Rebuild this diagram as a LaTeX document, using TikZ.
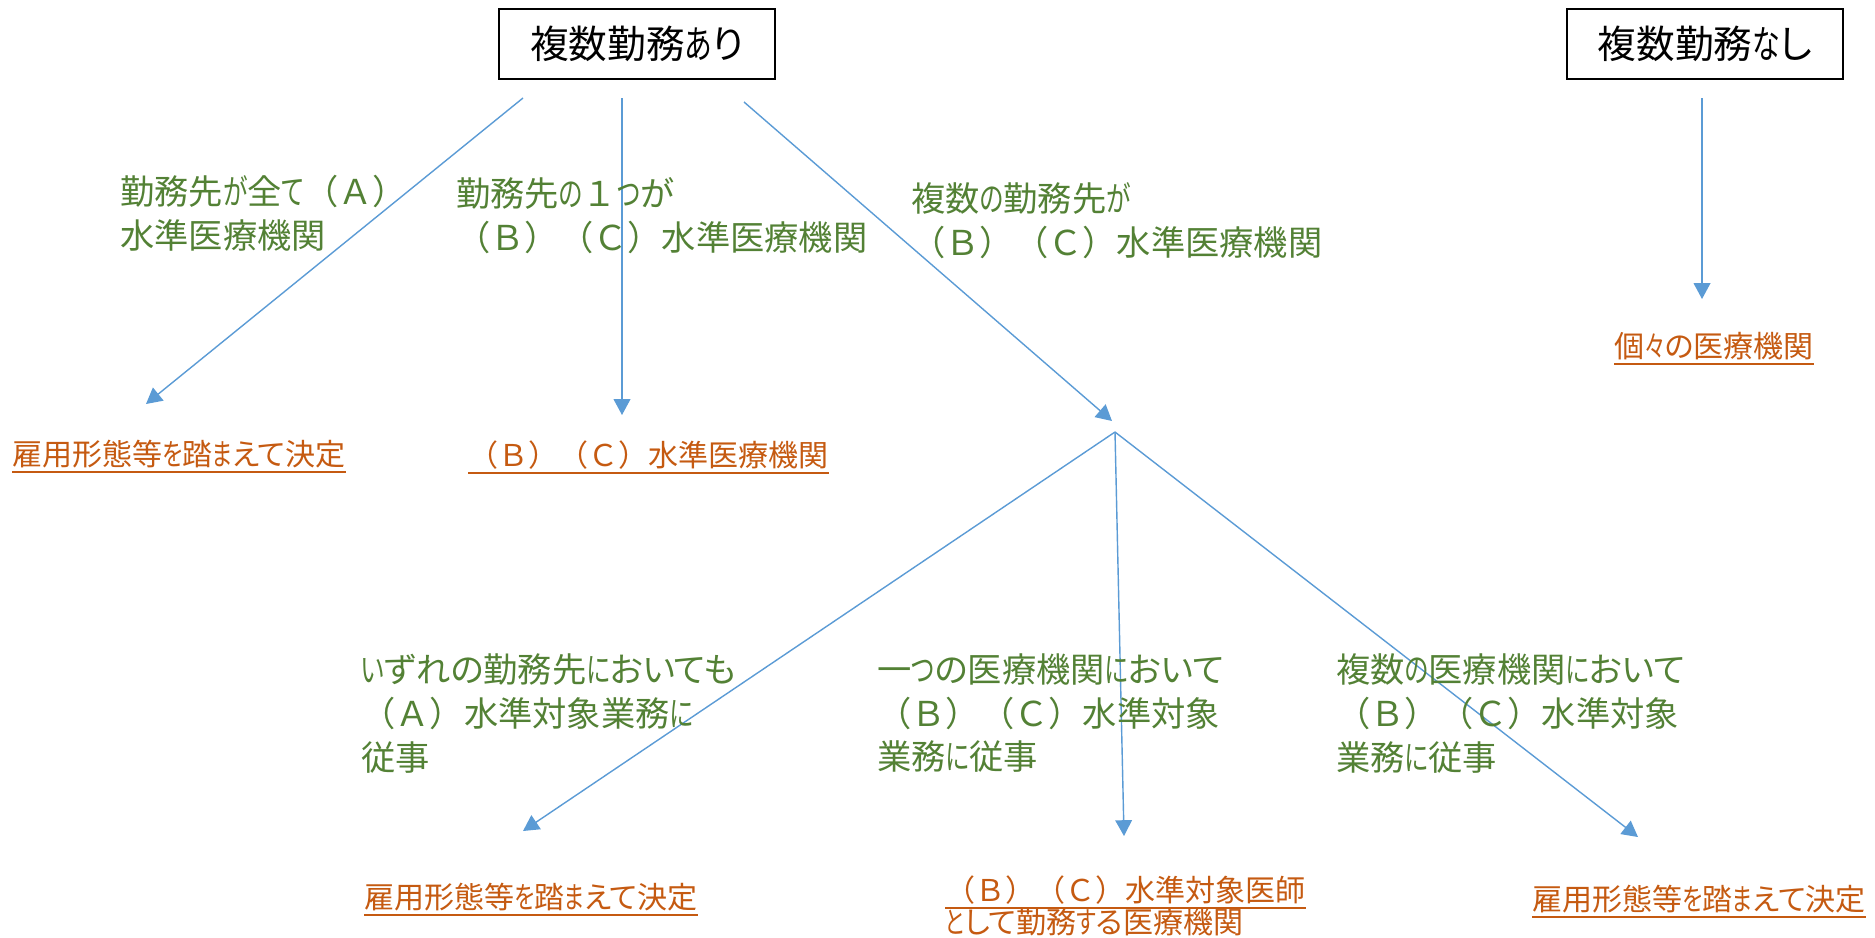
\documentclass[tikz,border=0pt]{standalone}
\usepackage{fontspec}
\setmainfont{Noto Sans CJK JP}[RawFeature=+palt]
\newfontfamily\fullwd{Noto Sans CJK JP}
\newfontfamily\kanafont{Noto Sans CJK JP}[RawFeature=+palt, FakeStretch=0.72]
\newcommand{\fw}[1]{{\fullwd #1}}
\XeTeXinterchartokenstate=1
\newXeTeXintercharclass\kanaclass
\newcount\kanacode
\kanacode="3041
\loop
  \XeTeXcharclass\kanacode=\kanaclass
  \ifnum\kanacode<"3096
  \advance\kanacode by 1
\repeat
\XeTeXcharclass"3005=\kanaclass
\XeTeXinterchartoks 0 \kanaclass={\kanafont}
\XeTeXinterchartoks 1 \kanaclass={\kanafont}
\XeTeXinterchartoks 2 \kanaclass={\kanafont}
\XeTeXinterchartoks 3 \kanaclass={\kanafont}
\XeTeXinterchartoks 4095 \kanaclass={\kanafont}
\XeTeXinterchartoks \kanaclass 0={\rmfamily}
\XeTeXinterchartoks \kanaclass 1={\rmfamily}
\XeTeXinterchartoks \kanaclass 2={\rmfamily}
\XeTeXinterchartoks \kanaclass 3={\rmfamily}
\XeTeXinterchartoks \kanaclass 4095={\rmfamily}
\usetikzlibrary{arrows.meta}
\definecolor{leafgreen}{HTML}{538135}
\definecolor{rustorange}{HTML}{C55A11}
\definecolor{linkblue}{HTML}{5B9BD5}
\tikzset{
    headbox/.style={draw, line width=1pt, minimum width=5.53cm, minimum height=1.4cm, inner sep=0pt, font=\fontsize{22}{26}\selectfont},
    cond/.style={text=leafgreen, anchor=north west, inner sep=0pt, align=left, font=\fontsize{19.5}{25}\selectfont},
    result/.style={text=rustorange, anchor=north west, inner sep=0pt, font=\fontsize{17.1}{20}\selectfont,
        append after command={([yshift=-2pt]\tikzlastnode.south west) edge[rustorange, line width=1.1pt] ([yshift=-2pt]\tikzlastnode.south east)}},
    link/.style={linkblue, line width=0.8pt, -{Triangle[length=9pt,width=9.5pt]}}
}
\begin{document}
\begin{tikzpicture}[x=0.02cm, y=-0.02cm]
            \useasboundingbox (0,0) rectangle (1875,937);
            \node[headbox] (multi) at (637,44) {複数勤務あり};
            \node[headbox] (single) at (1705,44) {複数勤務なし};
            \coordinate (m1) at (523,98);
            \coordinate (m2) at (622,98);
            \coordinate (m3) at (744,102);
            \coordinate (s1) at (1702,98);
            \coordinate (t1) at (146,404);
            \coordinate (t2) at (622,415);
            \coordinate (split) at (1115,432);
            \coordinate (t3) at (1112,421);
            \coordinate (t4) at (1702,299);
            \coordinate (u1) at (523,831);
            \coordinate (u2) at (1124,836);
            \coordinate (u3) at (1638,837);
            \draw (m1)--(t1) [link];
            \draw (m2)--(t2) [link];
            \draw (m3)--(t3) [link];
            \draw (s1)--(t4) [link];
            \draw (split)--(u1) [link];
            \draw (split)--(u2) [link];
            \draw (split)--(u3) [link];
            \node[cond] (allA) at (120,175) {勤務先が全て\fw{（Ａ）}\\水準医療機関};
            \node[cond] (oneBC) at (456,177) {勤務先の\fw{１}つが\\\fw{（Ｂ）（Ｃ）}水準医療機関};
            \node[cond] (manyBC) at (911,182) {複数の勤務先が\\\fw{（Ｂ）（Ｃ）}水準医療機関};
            \node[cond] (workA) at (361,653) {いずれの勤務先においても\\\fw{（Ａ）}水準対象業務に\\従事};
            \node[cond] (workone) at (877,653) {一つの医療機関において\\\fw{（Ｂ）（Ｃ）}水準対象\\業務に従事};
            \node[cond] (workmany) at (1336,653) {複数の医療機関において\\\fw{（Ｂ）（Ｃ）}水準対象\\業務に従事};
            \node[result] (decide1) at (12,440) {雇用形態等を踏まえて決定};
            \node[result] (instBC) at (468,440) {\fw{（Ｂ）（Ｃ）}水準医療機関};
            \node[result] (each) at (1614,332) {個々の医療機関};
            \node[result] (decide2) at (364,883) {雇用形態等を踏まえて決定};
            \node[result] (doctorBC) at (945,875) {\fw{（Ｂ）（Ｃ）}水準対象医師};
            \node[result] (doctorinst) at (945,908) {として勤務する医療機関};
            \node[result] (decide3) at (1532,885) {雇用形態等を踏まえて決定};
\end{tikzpicture}
\end{document}
